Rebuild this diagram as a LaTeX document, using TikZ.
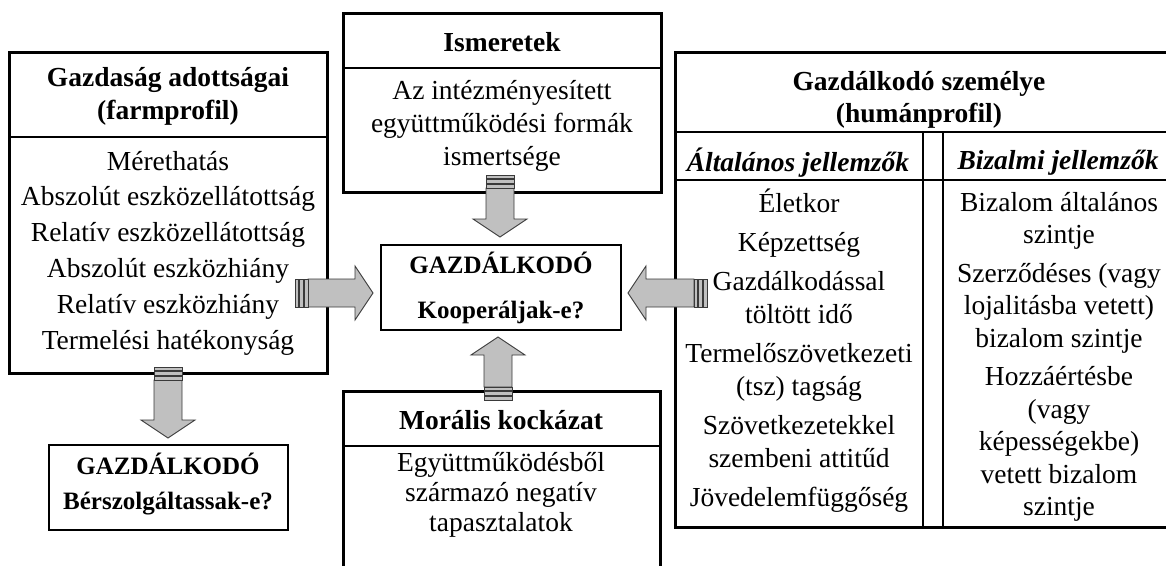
\documentclass[tikz,border=0pt]{standalone}
\usepackage{fontspec}
\setmainfont{Liberation Serif}
\usetikzlibrary{calc}

\definecolor{arrowgrey}{HTML}{C0C0C0}
\definecolor{arrowedge}{HTML}{3A3A3A}

\tikzset{
    pics/blockarrow/.style={code={
        \draw[arrowpart] (13,-14) -- ({#1-18},-14) -- ({#1-18},-27) -- (#1,0)
            -- ({#1-18},27) -- ({#1-18},14) -- (13,14) -- cycle;
        \draw[arrowpart] (0,-14) rectangle (3.3,14);
        \draw[arrowpart] (4.8,-14) rectangle (8.1,14);
        \draw[arrowpart] (9.6,-14) rectangle (13,14);
    }},
}

\newcommand{\blockarrow}[2]{%
    \path let \p1=(#1), \p2=(#2),
        \n1={atan2(\y2-\y1,\x2-\x1)}, \n2={veclen(\x2-\x1,\y2-\y1)} in
        pic[rotate=\n1, y=1pt] at (\p1) {blockarrow=\n2};
}

\begin{document}
\begin{tikzpicture}[x=1pt, y=-1pt,
        thickbox/.style={draw, line width=3pt},
        thinbox/.style={draw, line width=1.2pt},
        sepline/.style={line width=1.4pt},
        arrowpart/.style={fill=arrowgrey, draw=arrowedge, line width=0.9pt},
        txt/.style={align=center, inner sep=0pt, font=\fontsize{27.5}{#1}\selectfont},
        txt/.default=33,
        btxt/.style={align=center, inner sep=0pt, font=\fontsize{27.5}{#1}\selectfont\bfseries},
        btxt/.default=33,
        itxt/.style={align=center, inner sep=0pt, font=\fontsize{27.5}{33}\selectfont\bfseries\itshape},
        ctxt/.style={align=center, inner sep=0pt, font=\fontsize{25}{#1}\selectfont\bfseries}]
    \useasboundingbox (0,0) rectangle (1166,565);
    \clip (0,0) rectangle (1166,565);

    % boxes
    \draw[thickbox] (9,52) rectangle (327,373);
    \draw[sepline] (9,137) -- (327,137);
    \draw[thickbox] (343,13) rectangle (661,192);
    \draw[sepline] (343,68) -- (661,68);
    \draw[thinbox] (381,245) rectangle (621,330);
    \draw[thinbox] (49,445) rectangle (288,530);
    \draw[thickbox] (343,590) -- (343,391) -- (660,391) -- (660,590);
    \draw[sepline] (343,446) -- (660,446);
    \draw[thickbox] (1166,52) -- (675,52) -- (675,527) -- (1166,527);
    \draw[sepline] (675,132) -- (1166,132);
    \draw[sepline] (675,180) -- (1166,180);
    \draw[sepline] (923,132) -- (923,527);
    \draw[sepline] (943,132) -- (943,527);

    % texts
    \node[btxt] (farmhead) at (168,96.5) {Gazdaság adottságai\\(farmprofil)};
    \node[txt=35.8] (farmbody) at (168,253) {Mérethatás\\Abszolút eszközellátottság\\Relatív eszközellátottság\\Abszolút eszközhiány\\Relatív eszközhiány\\Termelési hatékonyság};
    \node[btxt] (ismhead) at (502,42) {Ismeretek};
    \node[txt] (ismbody) at (502,126) {Az intézményesített\\együttműködési formák\\ismertsége};
    \node[ctxt=45] (koop) at (501,288) {GAZDÁLKODÓ\\Kooperáljak-e?};
    \node[ctxt=35] (bersz) at (168,484.5) {GAZDÁLKODÓ\\Bérszolgáltassak-e?};
    \node[btxt] (morhead) at (501,420) {Morális kockázat};
    \node[txt=30] (morbody) at (501,495) {Együttműködésből\\származó negatív\\tapasztalatok};
    \node[btxt=32] (humhead) at (919,99.5) {Gazdálkodó személye\\(humánprofil)};
    \node[itxt] (genhead) at (798,163) {Általános jellemzők};
    \node[itxt] (trusthead) at (1058,163) {Bizalmi jellemzők};
    \node[txt] (genbody) at (799,351) {Életkor\\[6pt]Képzettség\\[6pt]Gazdálkodással\\töltött idő\\[6pt]Termelőszövetkezeti\\(tsz) tagság\\[6pt]Szövetkezetekkel\\szembeni attitűd\\[6pt]Jövedelemfüggőség};
    \node[txt=32.5] (trustbody) at (1059,357) {Bizalom általános\\szintje\\[6pt]Szerződéses (vagy\\lojalitásba vetett)\\bizalom szintje\\[6pt]Hozzáértésbe\\(vagy\\képességekbe)\\vetett bizalom\\szintje};

    % arrows
    \coordinate (farm-out) at (295,293);
    \coordinate (koop-left) at (373,293);
    \coordinate (hum-out) at (707,293);
    \coordinate (koop-right) at (628,293);
    \coordinate (ism-out) at (500,175);
    \coordinate (koop-top) at (500,237);
    \coordinate (mor-out) at (498,400);
    \coordinate (koop-bottom) at (498,337);
    \coordinate (farm-down) at (168,367);
    \coordinate (bersz-top) at (168,438);

    \blockarrow{farm-out}{koop-left}
    \blockarrow{hum-out}{koop-right}
    \blockarrow{ism-out}{koop-top}
    \blockarrow{mor-out}{koop-bottom}
    \blockarrow{farm-down}{bersz-top}
\end{tikzpicture}
\end{document}
